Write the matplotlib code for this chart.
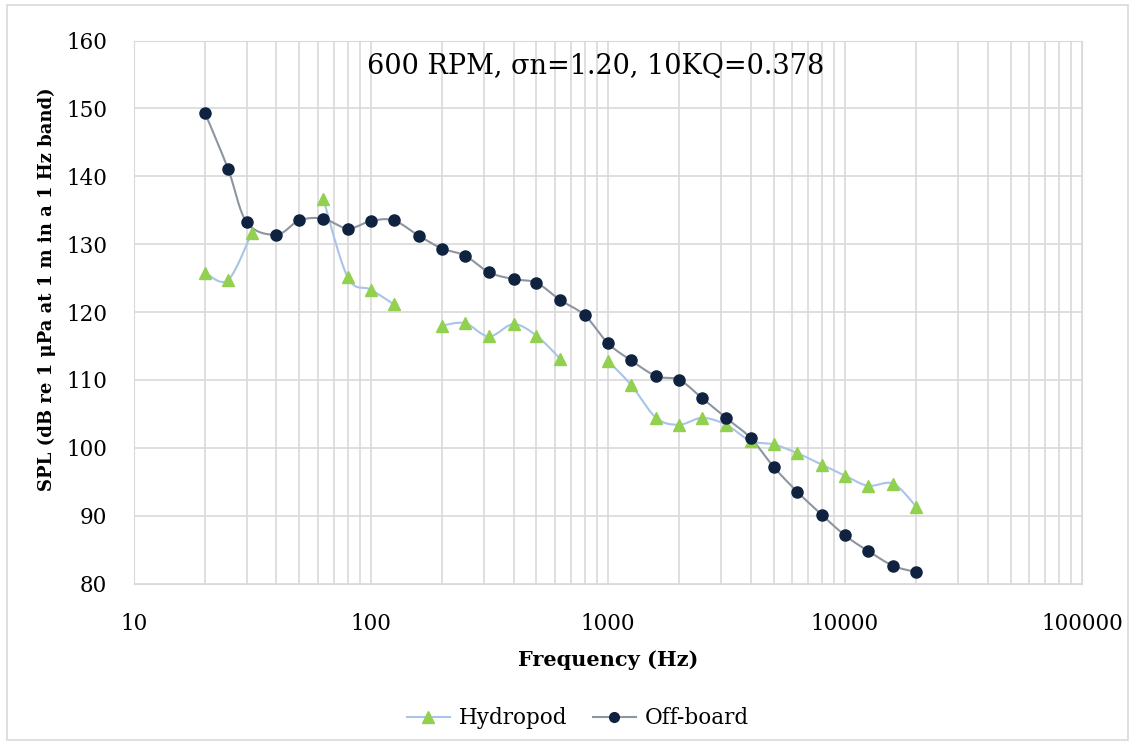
import numpy as np
import matplotlib.pyplot as plt
from matplotlib.patches import Rectangle

# data (1/3 octave bands)
freq_hydro = [20, 25, 31.5, 40, 50, 63, 80, 100, 125, 160, 200, 250, 315, 400, 500, 630, 800,
              1000, 1250, 1600, 2000, 2500, 3150, 4000, 5000, 6300, 8000, 10000, 12500, 16000, 20000]
spl_hydro = [125.8, 124.7, 131.7, np.nan, np.nan, 136.7, 125.1, 123.3, 121.15, np.nan, 118.0, 118.35,
             116.4, 118.2, 116.5, 113.1, np.nan, 112.8, 109.3, 104.4, 103.4, 104.4, 103.4, 101.0,
             100.5, 99.2, 97.5, 95.9, 94.4, 94.7, 91.3]

freq_off = [20, 25, 30, 40, 50, 63, 80, 100, 125, 160, 200, 250, 315, 400, 500, 630, 800,
            1000, 1250, 1600, 2000, 2500, 3150, 4000, 5000, 6300, 8000, 10000, 12500, 16000, 20000]
spl_off = [149.3, 141.1, 133.2, 131.4, 133.5, 133.75, 132.3, 133.4, 133.5, 131.2, 129.35, 128.3,
           125.85, 124.85, 124.3, 121.75, 119.5, 115.4, 112.9, 110.55, 110.0, 107.3, 104.4, 101.45,
           97.2, 93.5, 90.1, 87.1, 84.8, 82.6, 81.7]

title = "600 RPM, σn=1.20, 10KQ=0.378"
xlab = "Frequency (Hz)"
ylab = "SPL (dB re 1 μPa at 1 m in a 1 Hz band)"


def smooth(f, y, n=20):
    # catmull-rom through the points in (log f, y), split at gaps
    f = np.asarray(f, float)
    y = np.asarray(y, float)
    ok = ~np.isnan(y)
    runs, cur = [], []
    for i in range(len(y)):
        if ok[i]:
            cur.append(i)
        else:
            if cur:
                runs.append(cur)
            cur = []
    if cur:
        runs.append(cur)
    out = []
    for r in runs:
        u = np.log10(f[r])
        v = y[r]
        if len(r) < 2:
            continue
        uu, vv = [], []
        for k in range(len(r) - 1):
            p0 = (u[k - 1], v[k - 1]) if k > 0 else (u[k], v[k])
            p1 = (u[k], v[k])
            p2 = (u[k + 1], v[k + 1])
            p3 = (u[k + 2], v[k + 2]) if k + 2 < len(r) else (u[k + 1], v[k + 1])
            t = np.linspace(0, 1, n)
            for a, b in ((0, uu), (1, vv)):
                c1 = p1[a] + (p2[a] - p0[a]) / 6
                c2 = p2[a] - (p3[a] - p1[a]) / 6
                b.extend((1 - t) ** 3 * p1[a] + 3 * (1 - t) ** 2 * t * c1
                         + 3 * (1 - t) * t ** 2 * c2 + t ** 3 * p2[a])
        out.append((10 ** np.array(uu), np.array(vv)))
    return out


plt.rcParams['font.family'] = ['DejaVu Serif']

fig = plt.figure(figsize=(11.33, 7.42), dpi=100)
ax = fig.add_axes([0.118, 0.2136, 0.837, 0.7318])

green = '#92d050'
blue_line = '#a9c4e8'
navy = '#0f2341'
grey_line = '#8c95a0'

for fx, fy in smooth(freq_hydro, spl_hydro):
    ax.plot(fx, fy, color=blue_line, lw=1.5, zorder=2)
for fx, fy in smooth(freq_off, spl_off):
    ax.plot(fx, fy, color=grey_line, lw=1.5, zorder=3)
ax.plot(freq_hydro, spl_hydro, ls='none', marker='^', ms=9, color=green, zorder=4)
ax.plot(freq_off, spl_off, ls='none', marker='o', ms=8, color=navy, zorder=5)

# legend proxies
h1, = ax.plot([], [], color=blue_line, lw=1.5, marker='^', ms=8, mfc=green, mec=green)
h2, = ax.plot([], [], color=grey_line, lw=1.5, marker='o', ms=7, mfc=navy, mec=navy)

ax.set_xscale('log')
ax.set_xlim(10, 100000)
ax.set_ylim(80, 160)
ax.set_yticks(range(80, 161, 10))
ax.set_xticks([10, 100, 1000, 10000, 100000])
ax.set_xticklabels(['10', '100', '1000', '10000', '100000'])
ax.grid(True, which='both', color='#d9d9d9', lw=1.2)
ax.set_axisbelow(True)
ax.tick_params(which='both', length=0, labelsize=15.5)
ax.tick_params(axis='x', pad=21)
ax.tick_params(axis='y', pad=19)
for s in ax.spines.values():
    s.set_color('#d9d9d9')

fig.text(0.526, 0.911, title, ha='center', va='center', fontsize=19.5)
fig.text(0.537, 0.111, xlab, ha='center', va='center', fontsize=15, fontweight='bold')
fig.text(0.041, 0.61, ylab, ha='center', va='center', rotation=90, fontsize=13, fontweight='bold')

fig.legend([h1, h2], ['Hydropod', 'Off-board'], loc='center', bbox_to_anchor=(0.51, 0.032),
           ncol=2, frameon=False, fontsize=15.5, handlelength=2.0, columnspacing=1.2, handletextpad=0.4)

fig.patches.append(Rectangle((0.006, 0.003), 0.99, 0.99, transform=fig.transFigure,
                             fill=False, edgecolor='#d9d9d9', lw=1.2))

fig.savefig('out.png', dpi=100)
